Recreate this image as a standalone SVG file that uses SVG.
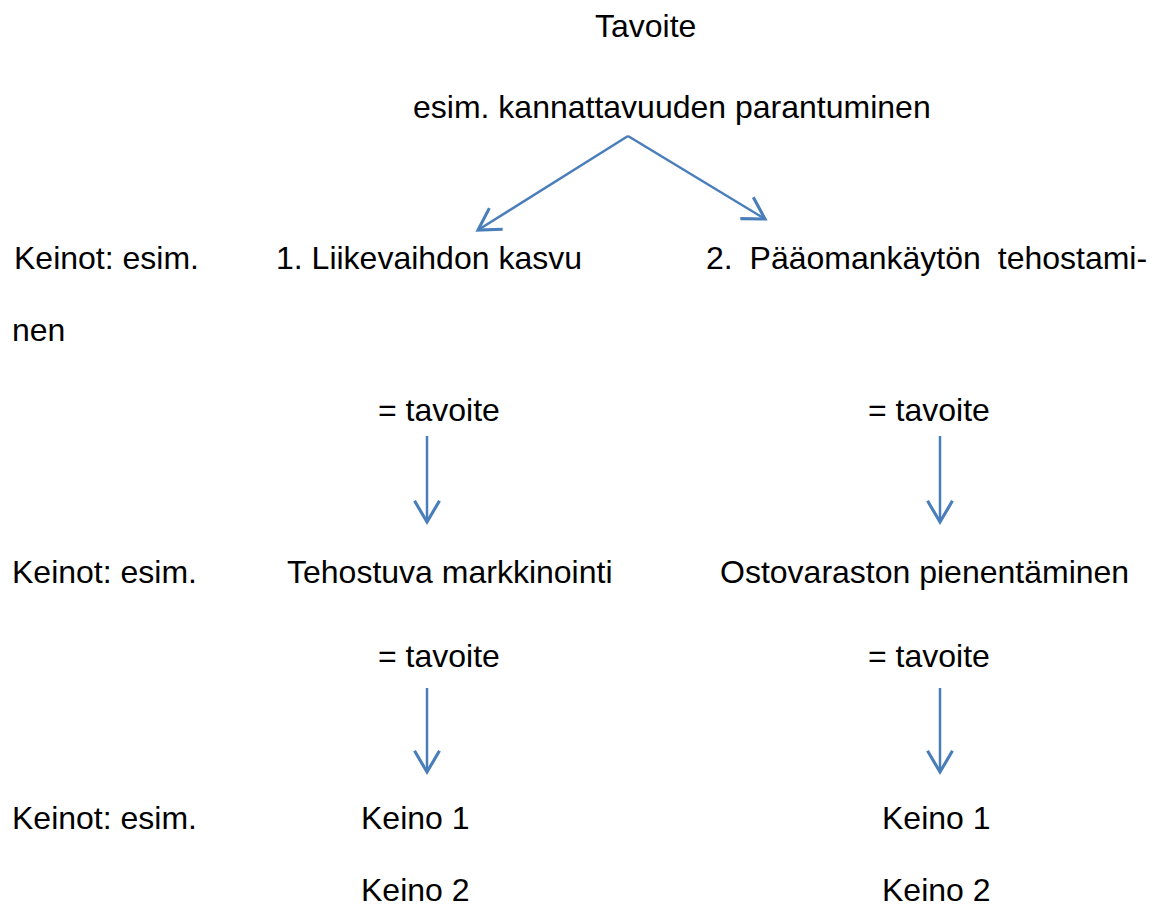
<svg xmlns="http://www.w3.org/2000/svg" width="1159" height="914" viewBox="0 0 1159 914">
<style>
text{font-family:"Liberation Sans",Arial,sans-serif;font-size:32px;fill:#000}
.c{stroke:#4a7ebb;stroke-width:2.5;fill:none}
</style>
<defs>
<marker id="ah" markerUnits="userSpaceOnUse" markerWidth="30" markerHeight="30" viewBox="-20 -12 22 24" refX="0" refY="0" orient="auto">
<path d="M-17,-10 L0,0 L-17,10" fill="none" stroke="#4a7ebb" stroke-width="2.5"/>
</marker>
</defs>
<rect width="1159" height="914" fill="#fff"/>
<g id="goal"><text x="595" y="37">Tavoite</text><text x="413" y="118">esim. kannattavuuden parantuminen</text></g>
<g id="row1">
<text x="14" y="269">Keinot: esim.</text>
<text x="276" y="269">1. Liikevaihdon kasvu</text>
<text x="706" y="269" word-spacing="8">2. Pääomankäytön tehostami-</text>
<text x="12" y="341">nen</text>
</g>
<g id="t1"><text x="378" y="421">= tavoite</text><text x="868" y="421">= tavoite</text></g>
<g id="row2">
<text x="12" y="583">Keinot: esim.</text>
<text x="287" y="583">Tehostuva markkinointi</text>
<text x="720" y="583">Ostovaraston pienentäminen</text>
</g>
<g id="t2"><text x="378" y="667">= tavoite</text><text x="868" y="667">= tavoite</text></g>
<g id="row3">
<text x="12" y="829">Keinot: esim.</text>
<text x="361" y="829">Keino 1</text>
<text x="882" y="829">Keino 1</text>
<text x="361" y="901">Keino 2</text>
<text x="882" y="901">Keino 2</text>
</g>
<g id="connectors">
<line class="c" x1="628" y1="136" x2="478" y2="230" marker-end="url(#ah)"/>
<line class="c" x1="628" y1="136" x2="765" y2="219" marker-end="url(#ah)"/>
<line class="c" x1="427" y1="436" x2="427" y2="522" marker-end="url(#ah)"/>
<line class="c" x1="940" y1="436" x2="940" y2="522" marker-end="url(#ah)"/>
<line class="c" x1="427" y1="688" x2="427" y2="772" marker-end="url(#ah)"/>
<line class="c" x1="940" y1="688" x2="940" y2="772" marker-end="url(#ah)"/>
</g>
</svg>
